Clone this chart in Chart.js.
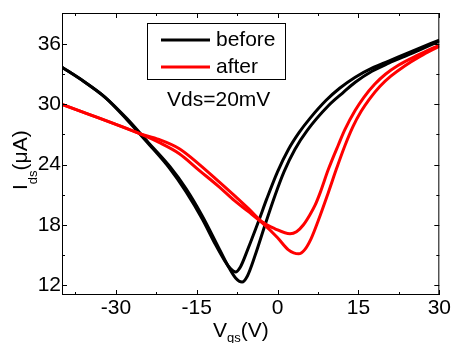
<!DOCTYPE html>
<html>
<head>
<meta charset="utf-8">
<script src="https://cdn.jsdelivr.net/npm/chart.js@4/dist/chart.umd.min.js"></script>
<style>
  html, body { margin:0; padding:0; background:#fff; }
  canvas { display:block; }
</style>
</head>
<body>
<canvas id="idsChart" width="454" height="343"></canvas>
<script>
// ── Data (Vgs in V, Ids in µA) ─────────────────
const vgsBefore1 = [-40, -36, -32, -28, -24, -20, -17, -14, -11.5, -9.8, -8.7, -7.8, -6.9, -5.5, -3.5, -2, 0, 2, 4, 6, 9, 11.5, 14.4, 17.5, 20.6, 25, 30];
const idsBefore1 = [33.7, 32.3, 30.7, 28.5, 26.1, 23.6, 21.3, 18.6, 16.0, 14.4, 13.6, 13.3, 13.8, 15.6, 18.4, 20.6, 23.3, 25.5, 27.2, 28.6, 30.4, 31.6, 32.7, 33.6, 34.3, 35.3, 36.4];

const vgsBefore2 = [-40, -36, -32, -28, -24, -20, -17, -14, -11.2, -9.2, -7.8, -6.6, -5.6, -4.2, -2.2, -0.5, 1.2, 3.2, 5.5, 9.5, 12, 14.4, 17.5, 20.6, 25, 30];
const idsBefore2 = [33.7, 32.3, 30.7, 28.6, 26.2, 23.8, 21.6, 18.9, 16.0, 13.9, 12.7, 12.3, 12.9, 14.9, 18.2, 20.9, 23.3, 25.5, 27.4, 29.9, 31.1, 32.2, 33.3, 34.1, 35.1, 36.3];

const vgsAfter1 = [-40, -35, -30, -25.7, -22, -18.3, -14.5, -10.9, -8, -5.4, -2.9, -0.5, 2.3, 3.5, 4.8, 6, 7, 7.9, 9.4, 11.3, 12.5, 14.4, 16, 18, 20, 22.4, 26, 30];
const idsAfter1 = [30.0, 29.0, 28.0, 27.1, 26.5, 25.6, 24.0, 22.3, 20.9, 19.6, 18.3, 17.6, 17.1, 17.3, 18.0, 19.0, 20.0, 21.2, 23.5, 26.0, 27.5, 29.4, 30.7, 32.0, 33.0, 33.9, 34.9, 35.9];

const vgsAfter2 = [-40, -35, -30, -25.7, -22, -18.3, -14.5, -10.9, -8, -5.4, -2.9, 0, 2, 3.9, 5, 6.2, 7.6, 9.4, 11, 12.5, 14, 15.5, 17, 19, 21, 23.5, 26.5, 30];
const idsAfter2 = [30.0, 29.0, 28.0, 27.1, 26.2, 25.1, 23.4, 21.8, 20.4, 19.3, 18.2, 16.7, 15.5, 15.1, 15.5, 16.6, 18.5, 21.2, 23.7, 25.9, 27.8, 29.3, 30.5, 31.8, 32.8, 33.8, 34.8, 35.8];

const xTicks = [-30, -15, 0, 15, 30];
const xMinorTicks = [-37.5, -22.5, -7.5, 7.5, 22.5];
const yTicks = [12, 18, 24, 30, 36];
const yMinorTicks = [15, 21, 27, 33];

const legendLabels = ['before', 'after'];
const seriesColors = ['#000000', '#ff0000'];
const noteText = 'Vds=20mV';

const FONT = '"Liberation Sans", Arial, sans-serif';

const pts = (xs, ys) => xs.map((v, i) => ({ x: v, y: ys[i] }));
const curve = (label, color, xs, ys) => ({
  label, data: pts(xs, ys),
  borderColor: color, borderWidth: 3, pointRadius: 0,
  fill: false, cubicInterpolationMode: 'monotone',
});

// ── Frame + inward ticks ───────────────────────
const frameTicks = {
  id: 'frameTicks',
  afterDatasetsDraw(chart) {
    const { ctx, chartArea: a, scales: { x, y } } = chart;
    ctx.save();
    ctx.strokeStyle = '#000';
    ctx.lineWidth = 1;
    ctx.beginPath();
    const xt = (v, len) => {
      const px = Math.round(x.getPixelForValue(v)) + 0.5;
      ctx.moveTo(px, a.bottom); ctx.lineTo(px, a.bottom - len);
      ctx.moveTo(px, a.top); ctx.lineTo(px, a.top + len);
    };
    const yt = (v, len) => {
      const py = Math.round(y.getPixelForValue(v)) + 0.5;
      ctx.moveTo(a.left, py); ctx.lineTo(a.left + len, py);
      ctx.moveTo(a.right, py); ctx.lineTo(a.right - len, py);
    };
    xTicks.forEach(v => xt(v, 5));
    xMinorTicks.forEach(v => xt(v, 3));
    yTicks.forEach(v => yt(v, 5));
    yMinorTicks.forEach(v => yt(v, 3));
    ctx.stroke();
    ctx.strokeRect(a.left + 0.5, a.top + 0.5, a.width - 1, a.height - 1);
    ctx.restore();
  }
};

// ── Legend box, note and axis titles ───────────
const annotations = {
  id: 'annotations',
  afterDraw(chart) {
    const ctx = chart.ctx;
    ctx.save();
    ctx.fillStyle = '#000';
    ctx.strokeStyle = '#000';
    ctx.lineWidth = 1;
    ctx.strokeRect(147.5, 23.5, 138, 56);

    ctx.font = '21px ' + FONT;
    ctx.textBaseline = 'middle';
    ctx.textAlign = 'left';
    legendLabels.forEach((lbl, i) => {
      const ly = 40 + i * 27;
      ctx.beginPath();
      ctx.strokeStyle = seriesColors[i];
      ctx.lineWidth = 3;
      ctx.moveTo(161, ly); ctx.lineTo(210, ly);
      ctx.stroke();
      ctx.fillText(lbl, 216, ly);
    });
    ctx.fillText(noteText, 167, 100);

    // y title: I_ds(µA)
    ctx.textBaseline = 'alphabetic';
    ctx.save();
    ctx.translate(27, 190);
    ctx.rotate(-Math.PI / 2);
    let w = 0;
    ctx.font = '21px ' + FONT; ctx.fillText('I', w, 0); w += ctx.measureText('I').width;
    ctx.font = '13px ' + FONT; ctx.fillText('ds', w, 10); w += ctx.measureText('ds').width;
    ctx.font = '21px ' + FONT; ctx.fillText('(\u03BCA)', w, 0);
    ctx.restore();

    // x title: V_gs(V)
    w = 213;
    ctx.font = '21px ' + FONT; ctx.fillText('V', w, 337); w += ctx.measureText('V').width;
    ctx.font = '13px ' + FONT; ctx.fillText('gs', w, 342); w += ctx.measureText('gs').width;
    ctx.font = '21px ' + FONT; ctx.fillText('(V)', w, 337);
    ctx.restore();
  }
};

// ── Chart ──────────────────────────────────────
const tickFont = { family: FONT, size: 21, lineHeight: 1 };

new Chart(document.getElementById('idsChart').getContext('2d'), {
  type: 'line',
  data: {
    datasets: [
      curve(legendLabels[1], seriesColors[1], vgsAfter1, idsAfter1),
      curve(legendLabels[1], seriesColors[1], vgsAfter2, idsAfter2),
      curve(legendLabels[0], seriesColors[0], vgsBefore1, idsBefore1),
      curve(legendLabels[0], seriesColors[0], vgsBefore2, idsBefore2),
    ]
  },
  options: {
    responsive: false,
    animation: false,
    layout: { padding: { top: 13, right: 13, left: 0, bottom: 0 } },
    plugins: { legend: { display: false }, tooltip: { enabled: false } },
    scales: {
      x: {
        type: 'linear', min: -40, max: 30,
        afterBuildTicks: s => { s.ticks = xTicks.map(v => ({ value: v })); },
        afterFit: s => { s.height = 48; },
        grid: { display: false, drawTicks: false },
        border: { display: false },
        ticks: { color: '#000', font: tickFont, padding: 3, maxRotation: 0, autoSkip: false }
      },
      y: {
        type: 'linear', min: 11, max: 39.1,
        afterBuildTicks: s => { s.ticks = yTicks.map(v => ({ value: v })); },
        afterFit: s => { s.width = 62; },
        grid: { display: false, drawTicks: false },
        border: { display: false },
        ticks: { color: '#000', font: tickFont, padding: 1, autoSkip: false }
      }
    }
  },
  plugins: [frameTicks, annotations]
});
</script>
</body>
</html>
